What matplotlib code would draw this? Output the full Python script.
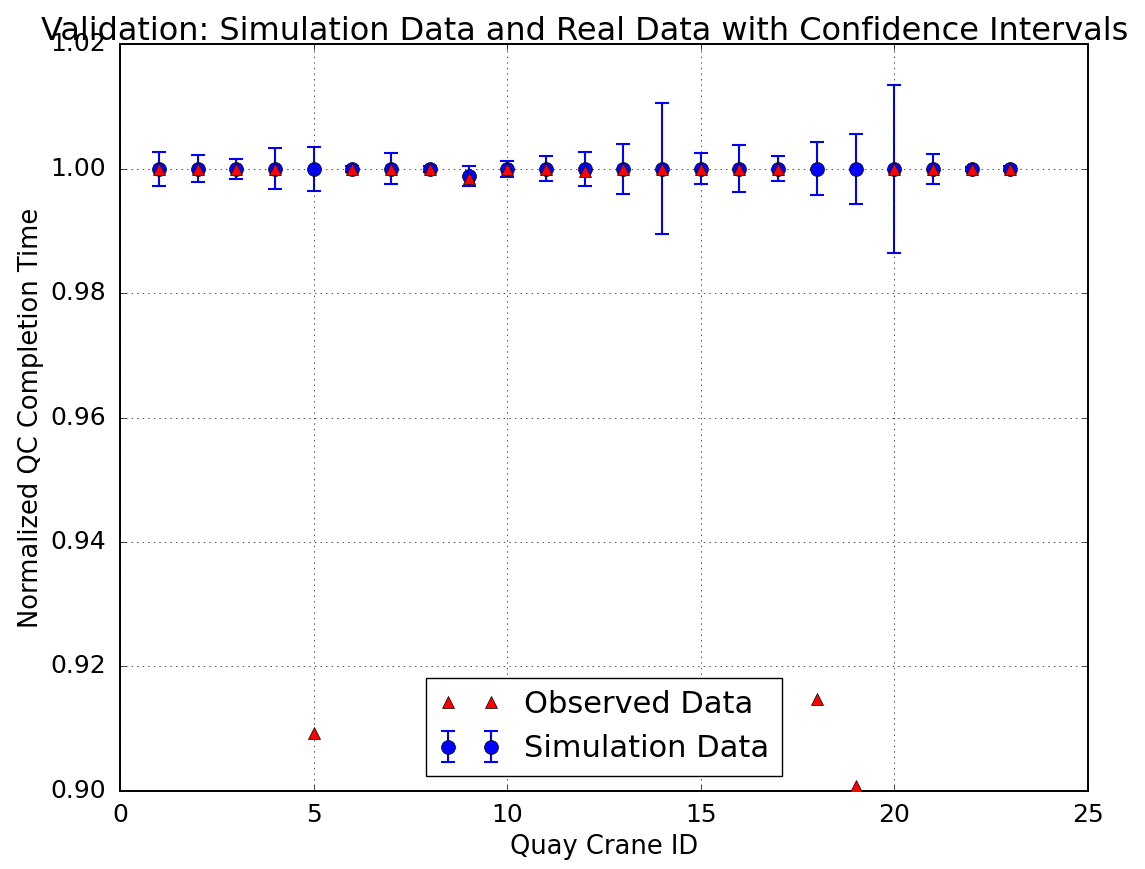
import matplotlib
matplotlib.use('Agg')
import matplotlib.pyplot as plt

plt.style.use('classic')

# quay crane ids
crane_id = list(range(1, 24))
# simulation means and confidence half-widths
sim_mean = [1.0, 1.0, 1.0, 1.0, 1.0, 1.0, 1.0, 1.0, 0.9988, 1.0, 1.0, 1.0,
            1.0, 1.0, 1.0, 1.0, 1.0, 1.0, 1.0, 1.0, 1.0, 1.0, 1.0]
sim_ci = [0.0027, 0.0022, 0.0016, 0.0033, 0.0035, 0.0005, 0.0025, 0.0005,
          0.0016, 0.0013, 0.002, 0.0027, 0.004, 0.0105, 0.0025, 0.0038,
          0.002, 0.0043, 0.0056, 0.0135, 0.0024, 0.0003, 0.0004]
# observed values
obs = [1.0, 1.0, 1.0, 1.0, 0.9093, 1.0, 1.0, 1.0, 0.9985, 1.0, 1.0, 0.9997,
       1.0, 1.0, 1.0, 1.0, 1.0, 0.9147, 0.9007, 1.0, 1.0, 1.0, 1.0]

fig = plt.figure(figsize=(11.45, 8.69), dpi=100, facecolor='white')
ax = fig.add_subplot(111)
fig.subplots_adjust(left=0.105, right=0.950, top=0.949, bottom=0.090)

ax.errorbar(crane_id, sim_mean, yerr=sim_ci, fmt='bo', ecolor='b',
            markersize=10, capsize=5, elinewidth=1.5, capthick=1.5,
            label='Simulation Data', zorder=2)
ax.plot(crane_id, obs, 'r^', markersize=9, label='Observed Data', zorder=4)

ax.set_xlim(0, 25)
ax.set_ylim(0.90, 1.02)
ax.set_yticks([0.90, 0.92, 0.94, 0.96, 0.98, 1.00, 1.02])
ax.grid(True)
for s in ax.spines.values():
    s.set_linewidth(1.4)
ax.tick_params(axis='y', labelsize=18, pad=10)
ax.tick_params(axis='x', labelsize=18, pad=9)
ax.set_xlabel('Quay Crane ID', fontsize=18.5)
ax.set_ylabel('Normalized QC Completion Time', fontsize=18.5)
ax.set_title('Validation: Simulation Data and Real Data with Confidence Intervals',
             fontsize=23, x=0.48, pad=3)
ax.legend(loc='lower center', numpoints=2, fontsize=22)

fig.savefig('out.png', dpi=100, facecolor='white')
